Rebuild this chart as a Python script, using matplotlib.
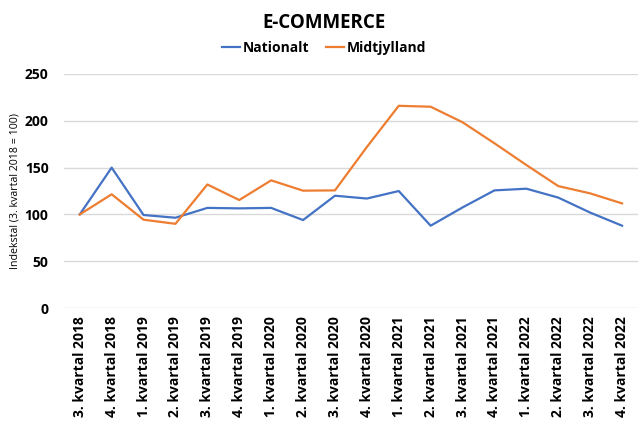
import matplotlib
matplotlib.use("Agg")
import matplotlib.pyplot as plt

plt.rcParams['font.family'] = ['Open Sans', 'DejaVu Sans']

quarters = ["3. kvartal 2018", "4. kvartal 2018",
            "1. kvartal 2019", "2. kvartal 2019", "3. kvartal 2019", "4. kvartal 2019",
            "1. kvartal 2020", "2. kvartal 2020", "3. kvartal 2020", "4. kvartal 2020",
            "1. kvartal 2021", "2. kvartal 2021", "3. kvartal 2021", "4. kvartal 2021",
            "1. kvartal 2022", "2. kvartal 2022", "3. kvartal 2022", "4. kvartal 2022"]
nationalt = [100, 150, 99.4, 96.5, 107, 106.5, 107, 94, 120, 117,
             125, 88, 107.5, 125.7, 127.5, 118, 102, 88]
midtjylland = [100, 121.5, 94.4, 90, 132, 115.4, 136.4, 125.4, 125.7, 172,
               216, 215, 198.4, 176, 152.8, 130.3, 122.5, 111.8]

fig = plt.figure(figsize=(6.38, 4.25), dpi=100)
ax = fig.add_axes([0.100, 0.275, 0.900, 0.551])

x = range(len(quarters))
ax.plot(x, nationalt, color="#4472C4", lw=1.6, label="Nationalt")
ax.plot(x, midtjylland, color="#ED7D31", lw=1.6, label="Midtjylland")

ax.set_xlim(-0.5, len(quarters) - 0.5)
ax.set_ylim(0, 250)
ax.set_yticks([0, 50, 100, 150, 200, 250])
ax.set_xticks(list(x))
ax.set_xticklabels(quarters, rotation=90, fontsize=10, fontweight="bold")
for lbl in ax.get_yticklabels():
    lbl.set_fontsize(10)
    lbl.set_fontweight("bold")
ax.tick_params(axis="both", length=0)
ax.tick_params(axis="y", pad=11)
ax.tick_params(axis="x", pad=6)
ax.grid(axis="y", color="#d9d9d9", lw=1)
ax.set_axisbelow(True)
for s in ax.spines.values():
    s.set_visible(False)

ax.set_ylabel("Indekstal (3. kvartal 2018 = 100)", fontsize=7.7, labelpad=3)
fig.text(0.508, 0.945, "E-COMMERCE", ha="center", va="center", fontsize=13.5, fontweight="bold")
fig.legend(loc="center", bbox_to_anchor=(0.508, 0.888), ncol=2, frameon=False,
           prop={"size": 10, "weight": "bold"}, handlelength=1.3, handletextpad=0.2,
           columnspacing=1.2)

fig.savefig("out.png", dpi=100)
